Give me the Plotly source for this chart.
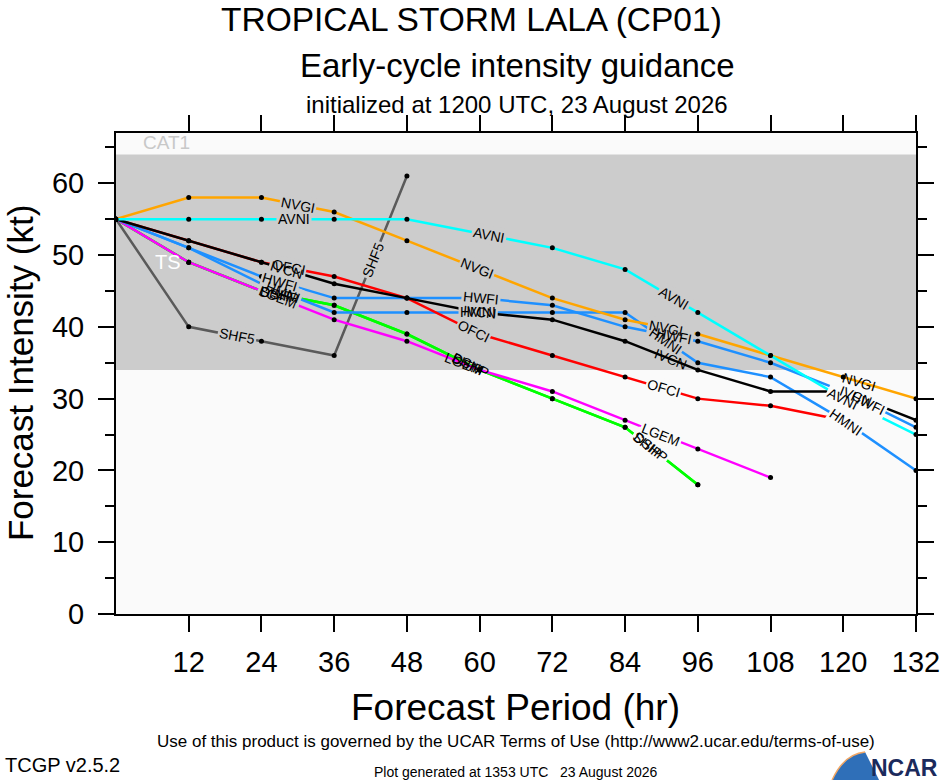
import math
import plotly.graph_objects as go

# forecast hours and model intensities (kt)
hours = [0, 12, 24, 36, 48, 60, 72, 84, 96, 108, 120, 132]

shf5 = [55, 40, 38, 36, 61]
dshp = [55, 49, 45, 43, 39, 34, 30, 26, 18]
ship = [55, 49, 45, 43, 39, 34, 30, 26, 18]
lgem = [55, 49, 45, 41, 38, 34, 31, 27, 23, 19]
hmni = [55, 51, 46, 42, 42, 42, 42, 42, 35, 33, 27, 20]
hwfi = [55, 51, 47, 44, 44, 44, 43, 40, 38, 35, 31, 26]
ofci = [55, 52, 49, 47, 44, 39, 36, 33, 30, 29, 27]
ivcn = [55, 52, 49, 46, 44, 42, 41, 38, 34, 31, 31, 27]
nvgi = [55, 58, 58, 56, 52, 48, 44, 41, 39, 36, 33, 30]
avni = [55, 55, 55, 55, 55, 53, 51, 48, 42, 36, 30, 25]

xticks = [12, 24, 36, 48, 60, 72, 84, 96, 108, 120, 132]

models = [
    ("SHF5", shf5, "#5a5a5a"),
    ("DSHP", dshp, "#00ff00"),
    ("SHIP", ship, "#00ff00"),
    ("LGEM", lgem, "#ff00ff"),
    ("HMNI", hmni, "#1e90ff"),
    ("HWFI", hwfi, "#1e90ff"),
    ("OFCI", ofci, "#ff0000"),
    ("IVCN", ivcn, "#000000"),
    ("NVGI", nvgi, "#ffa500"),
    ("AVNI", avni, "#00ffff"),
]

# where the name is written along each line (forecast hour)
label_hours = {
    "NVGI": [30, 59.5, 90.7, 122.6],
    "AVNI": [29.4, 61.5, 92, 120],
    "SHF5": [20, 42.4],
    "OFCI": [28.4, 59, 90.3],
    "IVCN": [28.2, 60, 91.5, 122],
    "HWFI": [27, 60.3, 92, 124],
    "HMNI": [27.5, 59.7, 90.7, 120.4],
    "SHIP": [26.5, 58, 87.7],
    "DSHP": [27, 58.5, 88.2],
    "LGEM": [26.7, 57.5, 90],
}

# plot box in pixels (window is 940 wide; the figure is a bit wider so that the
# margin push from the "132" label lands the right edge at 917)
L, R, T, B = 116, 917, 133, 614
FIG_W = 952
YMAX = 67
PPX = (R - L) / 132
PPY = (B - T) / YMAX

SANS = "Liberation Sans, Arial"


def px(x):
    return (x - L) / (R - L)


def py(y):
    return (B - y) / (B - T)


def along(vals, h):
    i = min(int(h // 12), len(vals) - 2)
    y0, y1 = vals[i], vals[i + 1]
    y = y0 + (y1 - y0) * (h - hours[i]) / 12
    ang = -math.degrees(math.atan((y1 - y0) / 12 * PPY / PPX))
    return y, ang


def page_text(x, y, text, size, **kw):
    d = dict(xref="paper", yref="paper", x=px(x), y=py(y), text=text, showarrow=False,
             xanchor="center", yanchor="middle", font=dict(size=size))
    d.update(kw)
    return d


fig = go.Figure()

for name, vals, col in models:
    fig.add_trace(go.Scatter(
        x=hours[:len(vals)], y=vals, mode="lines+markers", name=name,
        line=dict(color=col, width=2.5),
        marker=dict(color="black", size=5),
        showlegend=False,
    ))

# TS band
fig.add_shape(type="rect", xref="paper", yref="y", x0=0, x1=1, y0=34, y1=64,
              fillcolor="#cccccc", line_width=0, layer="below")

bg_notes = []
txt_notes = []
for name, vals, col in models:
    for h in label_hours[name]:
        y, ang = along(vals, h)
        if abs(y - 34) < 2 or abs(y - 64) < 2:
            bg = "rgba(0,0,0,0)"
        elif 34 < y < 64:
            bg = "#cccccc"
        else:
            bg = "#fafafa"
        bg_notes.append(dict(x=h, y=y, text=name, showarrow=False, textangle=ang,
                             xanchor="center", yanchor="middle",
                             font=dict(size=14, color="rgba(0,0,0,0)"),
                             bgcolor=bg, borderpad=1))
        txt_notes.append(dict(x=h, y=y, text=name, showarrow=False, textangle=ang,
                              xanchor="center", yanchor="middle",
                              font=dict(size=14, color="black")))

notes = bg_notes + txt_notes
notes += [
    dict(x=4.2, y=65.7, xanchor="left", yanchor="middle", text="CAT1", showarrow=False,
         font=dict(size=19, color="#c8c8c8")),
    dict(x=6.1, y=49, xanchor="left", yanchor="middle", text="TS", showarrow=False,
         font=dict(size=20, color="white")),
    page_text(472, 19, "TROPICAL STORM LALA (CP01)", 33.5),
    page_text(518, 65, "Early-cycle intensity guidance", 33),
    page_text(518, 104, "initialized at 1200 UTC, 23 August 2026", 24),
    page_text(516, 707, "Forecast Period (hr)", 37),
    page_text(20, 373, "Forecast Intensity (kt)", 35, textangle=-90),
    page_text(516, 741.5,
              "Use of this product is governed by the UCAR Terms of Use (http://www2.ucar.edu/terms-of-use)",
              17),
    page_text(3, 764.5, "TCGP v2.5.2", 20, xanchor="left"),
    page_text(516, 771.5, "Plot generated at 1353 UTC\u00a0\u00a0\u00a023 August 2026", 14),
    page_text(905, 768.5, "<b>NCAR</b>", 23),
]
notes[-1]["font"]["color"] = "#1b2a5c"

# NCAR swoosh
swoosh = "M %f,%f Q %f,%f %f,%f L %f,%f Z" % (
    px(833), py(780), px(845), py(754), px(866), py(752), px(880), py(780))
arc = "M %f,%f Q %f,%f %f,%f" % (px(833), py(780), px(845), py(754), px(866), py(752))
fig.add_shape(type="path", xref="paper", yref="paper", path=swoosh,
              fillcolor="#2f6fb8", line_width=0)
fig.add_shape(type="path", xref="paper", yref="paper", path=arc,
              line=dict(color="#f2a765", width=1.5))

fig.update_layout(
    width=FIG_W, height=780, autosize=False,
    margin=dict(l=L, r=23, t=T, b=780 - B),
    paper_bgcolor="white", plot_bgcolor="#fafafa",
    font=dict(family=SANS, color="black"),
    annotations=notes,
)
fig.update_xaxes(
    range=[0, 132], tickvals=xticks, ticks="outside", ticklen=16, tickwidth=2,
    tickcolor="black", showline=True, linewidth=2, linecolor="black", mirror="ticks",
    showgrid=False, zeroline=False, tickfont=dict(size=29), ticklabelstandoff=5,
)
fig.update_yaxes(
    range=[0, YMAX], tick0=0, dtick=10, ticks="outside", ticklen=16, tickwidth=2,
    tickcolor="black", showline=True, linewidth=2, linecolor="black", mirror="ticks",
    showgrid=False, zeroline=False, tickfont=dict(size=29), ticklabelstandoff=8,
    minor=dict(dtick=5, ticks="outside", ticklen=9, tickwidth=2, tickcolor="black", showgrid=False),
)

fig.write_html(
    "out.html", config={"displayModeBar": False},
    post_script=("document.body.style.margin='0';"
                 "document.body.style.overflow='hidden';"
                 "document.documentElement.style.overflow='hidden';"),
)
